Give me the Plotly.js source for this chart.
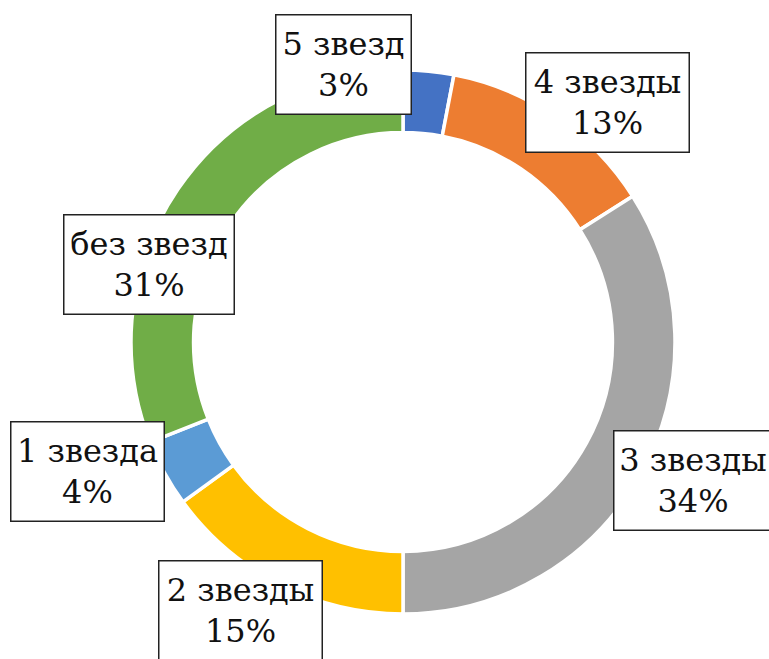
<!DOCTYPE html>
<html>
<head>
<meta charset="utf-8">
<script src="https://cdn.plot.ly/plotly-3.0.1.min.js"></script>
<style>html,body{margin:0;padding:0;background:#fff;}#chart{width:769px;height:659px;}</style>
</head>
<body>
<div id="chart"></div>
<script>
const categories = ["5 звезд", "4 звезды", "3 звезды", "2 звезды", "1 звезда", "без звезд"];
const values = [3, 13, 34, 15, 4, 31];
const percentLabels = ["3%", "13%", "34%", "15%", "4%", "31%"];
const colors = ["#4472C4", "#ED7D31", "#A5A5A5", "#FFC000", "#5B9BD5", "#70AD47"];

const W = 769, H = 659;
const cx = 403, cy = 342, R = 272;
// label box centres and sizes in pixels
const labelPos = [[343.5, 64.5], [607.5, 102.5], [693, 480.5], [240.5, 610.5], [87.5, 471], [149, 264.5]];
const labelWidth = [137, 165, 160, 165, 155, 172];
const boxH = 101, bw = 1.5;

const trace = {
  type: 'pie',
  labels: categories,
  values: values,
  sort: false,
  direction: 'clockwise',
  rotation: 0,
  hole: 0.77,
  textinfo: 'none',
  hoverinfo: 'label+percent',
  marker: { colors: colors, line: { color: '#ffffff', width: 3.5 } },
  domain: { x: [(cx - R) / W, (cx + R) / W], y: [(H - cy - R) / H, (H - cy + R) / H] },
  showlegend: false
};

const annotations = categories.map((c, i) => ({
  xref: 'paper', yref: 'paper',
  x: labelPos[i][0] / W, y: 1 - labelPos[i][1] / H,
  xanchor: 'center', yanchor: 'middle',
  text: c + '<br>' + percentLabels[i],
  showarrow: false,
  align: 'center',
  valign: 'middle',
  width: labelWidth[i] - 2 * bw,
  height: boxH - 2 * bw,
  font: { family: 'DejaVu Serif', size: 32, color: '#111' },
  bgcolor: '#ffffff',
  bordercolor: '#222',
  borderwidth: bw,
  borderpad: 0
}));

Plotly.newPlot('chart', [trace], {
  width: W, height: H,
  margin: { l: 0, r: 0, t: 0, b: 0 },
  paper_bgcolor: '#ffffff',
  annotations: annotations
}, { displayModeBar: false, staticPlot: true });
</script>
</body>
</html>
